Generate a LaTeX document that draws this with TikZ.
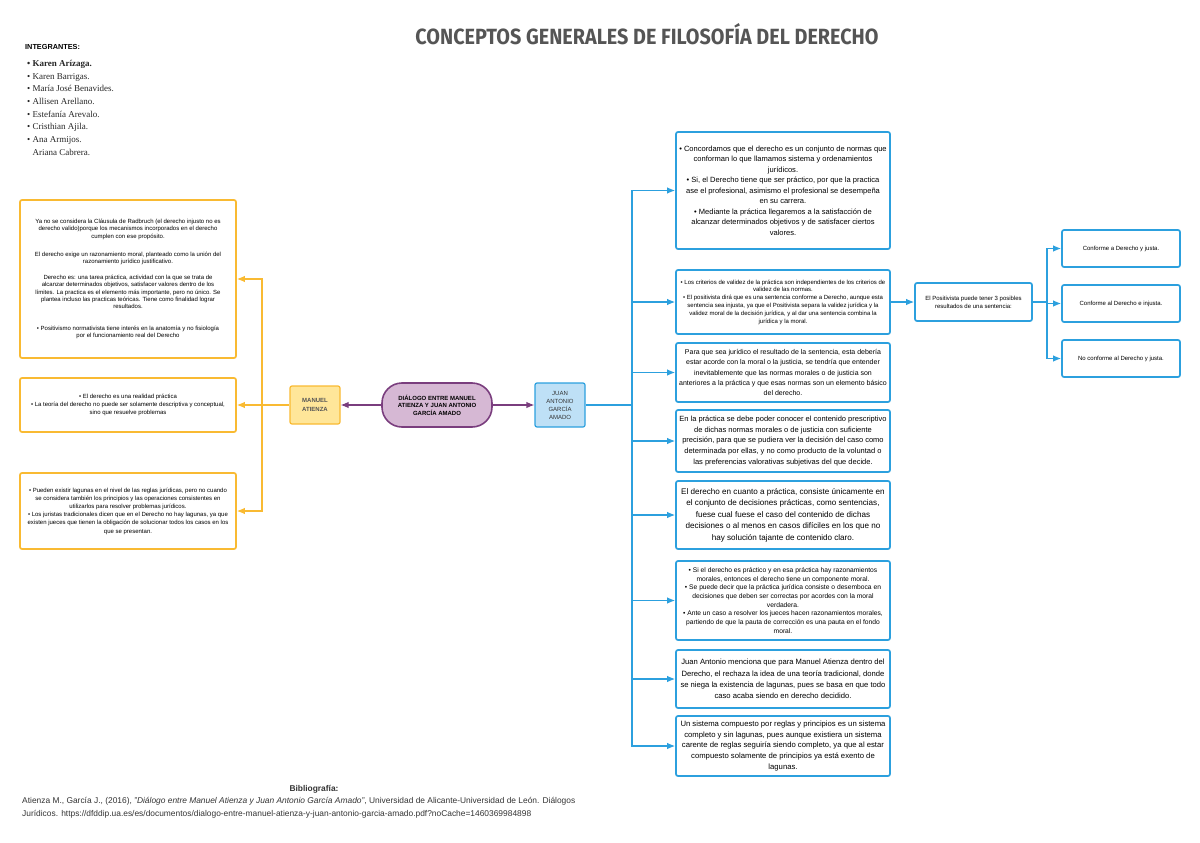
\documentclass[tikz,border=0pt]{standalone}
\usepackage{fontspec}
\setmainfont{Liberation Sans}
\newfontfamily\nombres{Liberation Serif}
\newfontfamily\titulo{Fira Sans}
\usetikzlibrary{arrows.meta}
\definecolor{naranja}{RGB}{249,186,50}
\definecolor{amarillo}{RGB}{255,230,153}
\definecolor{morado}{RGB}{122,62,126}
\definecolor{lila}{RGB}{214,184,212}
\definecolor{azul}{RGB}{44,160,222}
\definecolor{celeste}{RGB}{190,224,246}
\definecolor{gris}{RGB}{85,85,85}

\begin{document}
\begin{tikzpicture}[x=1pt,y=-1pt,
  caja/.style={draw=azul,line width=1.7pt,rounded corners=2pt,fill=white,align=center,inner sep=0pt},
  cajan/.style={caja,draw=naranja},
  fl/.style={line width=1.2pt,-{Latex[length=8pt,width=6.5pt]}},
  t/.style 2 args={font=\fontsize{#1pt}{#2pt}\selectfont}]
\useasboundingbox (0,0) rectangle (1200,843);

\node (tit) at (647,34) {\scalebox{0.9}[1]{\color{gris}\titulo\fontsize{22pt}{24pt}\selectfont\bfseries CONCEPTOS GENERALES DE FILOSOFÍA DEL DERECHO}};
\node[anchor=west,inner sep=0pt,t={7.3}{8}] (integ) at (25,47) {\bfseries INTEGRANTES:};
\node[anchor=north west,inner sep=0pt,align=left,text=black!85,font=\nombres\fontsize{9pt}{12.7pt}\selectfont] (grupo) at (27,60)
  {\textbf{• Karen Arízaga.}\\• Karen Barrigas.\\• María José Benavides.\\• Allisen Arellano.\\• Estefanía Arevalo.\\• Cristhian Ajila.\\
   • Ana Armijos.\\\hphantom{• }Ariana Cabrera.};

\node[cajan,minimum width=216pt,minimum height=158pt,t={6}{7.4}] (l1) at (128,279)
  {Ya no se considera la Cláusula de Radbruch (el derecho injusto no es\\derecho valido)porque los mecanismos incorporados en el derecho\\cumplen con ese propósito.\\[11pt]
   El derecho exige un razonamiento moral, planteado como la unión del\\razonamiento jurídico justificativo.\\[8pt]
   Derecho es: una tarea práctica, actividad con la que se trata de\\alcanzar determinados objetivos, satisfacer valores dentro de los\\límites. La practica es el elemento más importante, pero no único. Se\\plantea incluso las practicas teóricas. Tiene como finalidad lograr\\resultados.\\[14pt]
   • Positivismo normativista tiene interés en la anatomía y no fisiología\\por el funcionamiento real del Derecho};
\node[cajan,minimum width=216pt,minimum height=54pt,t={6}{8}] (l2) at (128,405)
  {• El derecho es una realidad práctica\\• La teoría del derecho no puede ser solamente descriptiva y conceptual,\\sino que resuelve problemas};
\node[cajan,minimum width=216pt,minimum height=76pt,t={6}{8.2}] (l3) at (128,511)
  {• Pueden existir lagunas en el nivel de las reglas jurídicas, pero no cuando\\se considera también los principios y las operaciones consistentes en\\utilizarlos para resolver problemas jurídicos.\\
   • Los juristas tradicionales dicen que en el Derecho no hay lagunas, ya que\\existen jueces que tienen la obligación de solucionar todos los casos en los\\que se presentan.};

\node[cajan,fill=amarillo,line width=1.2pt,minimum width=50pt,minimum height=38pt,text=gris,t={6}{8.5}] (manuel) at (315,405) {\bfseries MANUEL\\\bfseries ATIENZA};
\node[draw=morado,fill=lila,line width=1.6pt,rounded corners=20pt,minimum width=110pt,minimum height=44pt,inner sep=0pt,align=center,t={6}{7.5}] (dlg) at (437,405)
  {\bfseries DIÁLOGO ENTRE MANUEL\\\bfseries ATIENZA Y JUAN ANTONIO\\\bfseries GARCÍA AMADO};
\node[caja,fill=celeste,line width=1.2pt,minimum width=50pt,minimum height=44pt,text=black!80,t={6}{8}] (juan) at (560,405) {JUAN\\ANTONIO\\GARCÍA\\AMADO};

\node[caja,minimum width=214pt,minimum height=117pt,t={7.55}{10.5}] (r1) at (783,190.5)
  {• Concordamos que el derecho es un conjunto de normas que\\conforman lo que llamamos sistema y ordenamientos\\jurídicos.\\
   • Si, el Derecho tiene que ser práctico, por que la practica\\ase el profesional, asimismo el profesional se desempeña\\en su carrera.\\
   • Mediante la práctica llegaremos a la satisfacción de\\alcanzar determinados objetivos y de satisfacer ciertos\\valores.};
\node[caja,minimum width=214pt,minimum height=64pt,t={6}{7.8}] (r2) at (783,302)
  {• Los criterios de validez de la práctica son independientes de los criterios de\\validez de las normas.\\
   • El positivista dirá que es una sentencia conforme a Derecho, aunque esta\\sentencia sea injusta, ya que el Positivista separa la validez jurídica y la\\validez moral de la decisión jurídica, y al dar una sentencia combina la\\jurídica y la moral.};
\node[caja,minimum width=214pt,minimum height=59pt,t={7}{10.2}] (r3) at (783,372.5)
  {Para que sea jurídico el resultado de la sentencia, esta debería\\estar acorde con la moral o la justicia, se tendría que entender\\inevitablemente que las normas morales o de justicia son\\anteriores a la práctica y que esas normas son un elemento básico\\del derecho.};
\node[caja,minimum width=214pt,minimum height=62pt,t={7.5}{10.7}] (r4) at (783,441)
  {En la práctica se debe poder conocer el contenido prescriptivo\\de dichas normas morales o de justicia con suficiente\\precisión, para que se pudiera ver la decisión del caso como\\determinada por ellas, y no como producto de la voluntad o\\las preferencias valorativas subjetivas del que decide.};
\node[caja,minimum width=214pt,minimum height=68pt,t={8.1}{11.5}] (r5) at (783,515)
  {El derecho en cuanto a práctica, consiste únicamente en\\el conjunto de decisiones prácticas, como sentencias,\\fuese cual fuese el caso del contenido de dichas\\decisiones o al menos en casos difíciles en los que no\\hay solución tajante de contenido claro.};
\node[caja,minimum width=214pt,minimum height=79pt,t={6.7}{8.7}] (r6) at (783,600.5)
  {• Si el derecho es práctico y en esa práctica hay razonamientos\\morales, entonces el derecho tiene un componente moral.\\
   • Se puede decir que la práctica jurídica consiste o desemboca en\\decisiones que deben ser correctas por acordes con la moral\\verdadera.\\
   • Ante un caso a resolver los jueces hacen razonamientos morales,\\partiendo de que la pauta de corrección es una pauta en el fondo\\moral.};
\node[caja,minimum width=214pt,minimum height=58pt,t={7.65}{11.3}] (r7) at (783,679)
  {Juan Antonio menciona que para Manuel Atienza dentro del\\Derecho, el rechaza la idea de una teoría tradicional, donde\\se niega la existencia de lagunas, pues se basa en que todo\\caso acaba siendo en derecho decidido.};
\node[caja,minimum width=214pt,minimum height=60pt,t={7.7}{10.7}] (r8) at (783,746)
  {Un sistema compuesto por reglas y principios es un sistema\\completo y sin lagunas, pues aunque existiera un sistema\\carente de reglas seguiría siendo completo, ya que al estar\\compuesto solamente de principios ya está exento de\\lagunas.};

\node[caja,minimum width=117pt,minimum height=38pt,t={6}{8}] (pos) at (973.5,302) {El Positivista puede tener 3 posibles\\resultados de una sentencia:};
\node[caja,minimum width=118pt,minimum height=37pt,t={6}{8}] (f1) at (1121,248.5) {Conforme a Derecho y justa.};
\node[caja,minimum width=118pt,minimum height=37pt,t={6}{8}] (f2) at (1121,303.5) {Conforme al Derecho e injusta.};
\node[caja,minimum width=118pt,minimum height=37pt,t={6}{8}] (f3) at (1121,358.5) {No conforme al Derecho y justa.};

\coordinate (lt) at (262,405);
\coordinate (rt) at (632,405);
\coordinate (ft) at (1047,302);
\draw[morado,fl] (dlg) -- (manuel);
\draw[morado,fl] (dlg) -- (juan);
\draw[naranja,line width=1.2pt] (manuel) -- (lt);
\foreach \n in {l1,l2,l3} \draw[naranja,fl] (lt) |- (\n);
\draw[azul,line width=1.2pt] (juan) -- (rt);
\foreach \n in {r1,r2,r3,r4,r5,r6,r7,r8} \draw[azul,fl] (rt) |- (\n);
\draw[azul,fl] (r2) -- (pos);
\draw[azul,line width=1.2pt] (pos) -- (ft);
\foreach \n in {f1,f2,f3} \draw[azul,fl] (ft) |- (\n);

\node[t={8.4}{13},text=black!80] (bib) at (314,789) {\bfseries Bibliografía:};
\node[anchor=north west,inner sep=0pt,align=left,text=black!80,t={8.4}{13}] (ref) at (22,797)
  {Atienza M., García J., (2016), \textit{"Diálogo entre Manuel Atienza y Juan Antonio García Amado"}, Universidad de Alicante-Universidad de León. Diálogos\\Jurídicos. https://dfddip.ua.es/es/documentos/dialogo-entre-manuel-atienza-y-juan-antonio-garcia-amado.pdf?noCache=1460369984898};
\end{tikzpicture}
\end{document}
